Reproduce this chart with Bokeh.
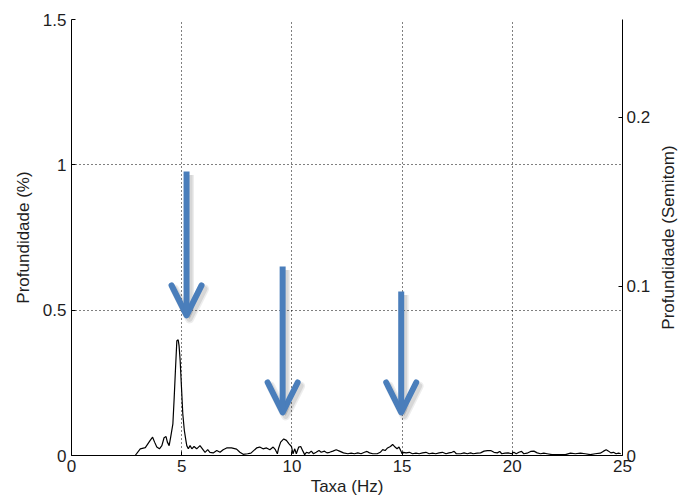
import math
from bokeh.plotting import figure
from bokeh.models import (Range1d, LinearAxis, FixedTicker, NumeralTickFormatter,
                          Arrow, OpenHead, ColumnDataSource, Label)
from bokeh.embed import file_html
from bokeh.resources import INLINE

# ---- data ----
rate_hz = [2.58, 2.89, 3.12, 3.35, 3.57, 3.68, 3.77, 3.87, 3.99, 4.10, 4.20, 4.29, 4.35, 4.43,
           4.50, 4.60, 4.66, 4.72, 4.78, 4.84, 4.88, 4.93, 4.99, 5.05, 5.12, 5.19, 5.23, 5.30,
           5.38, 5.46, 5.56, 5.68, 5.83, 5.94, 6.06, 6.18, 6.28, 6.43, 6.59, 6.74, 6.88, 7.04,
           7.26, 7.49, 7.64, 7.79, 7.99, 8.14, 8.24, 8.40, 8.54, 8.69, 8.85, 9.00, 9.15, 9.25,
           9.34, 9.40, 9.49, 9.63, 9.75, 9.87, 9.98, 10.05, 10.13, 10.20, 10.31, 10.40, 10.50,
           10.58, 10.66, 10.77, 10.88, 10.98, 11.10, 11.23, 11.33, 11.48, 11.59, 11.71, 11.86,
           12.01, 12.16, 12.34, 12.54, 12.69, 12.84, 12.99, 13.14, 13.29, 13.41, 13.52, 13.67,
           13.87, 14.01, 14.12, 14.23, 14.34, 14.47, 14.57, 14.68, 14.77, 14.86, 14.95, 15.00,
           15.07, 15.18, 15.33, 15.47, 15.63, 15.78, 15.93, 16.08, 16.23, 16.38, 16.53, 16.68,
           16.83, 16.99, 17.13, 17.26, 17.36, 17.46, 17.66, 17.81, 17.96, 18.11, 18.22, 18.41,
           18.56, 18.72, 18.87, 19.02, 19.17, 19.32, 19.43, 19.52, 19.67, 19.81, 19.97, 20.07,
           20.18, 20.30, 20.42, 20.52, 20.67, 20.83, 20.98, 21.13, 21.28, 21.43, 21.58, 21.80,
           22.11, 22.41, 22.64, 22.86, 23.09, 23.31, 23.54, 23.76, 23.99, 24.14, 24.26, 24.37,
           24.47, 24.59, 24.71, 24.82, 24.92]
depth_pct = [0.000, 0.000, 0.023, 0.027, 0.052, 0.063, 0.046, 0.029, 0.023, 0.034, 0.061, 0.065,
             0.046, 0.034, 0.063, 0.109, 0.200, 0.300, 0.395, 0.398, 0.378, 0.327, 0.235, 0.143,
             0.086, 0.052, 0.034, 0.023, 0.034, 0.023, 0.031, 0.023, 0.034, 0.023, 0.011, 0.020,
             0.011, 0.009, 0.017, 0.011, 0.020, 0.026, 0.026, 0.022, 0.011, 0.004, 0.006, 0.008,
             0.015, 0.026, 0.029, 0.023, 0.026, 0.020, 0.029, 0.020, 0.006, 0.026, 0.046, 0.057,
             0.052, 0.040, 0.031, 0.006, 0.023, 0.006, 0.029, 0.031, 0.015, 0.003, 0.011, 0.008,
             0.015, 0.006, 0.011, 0.017, 0.011, 0.015, 0.009, 0.011, 0.015, 0.020, 0.015, 0.009,
             0.006, 0.008, 0.006, 0.009, 0.006, 0.011, 0.014, 0.009, 0.006, 0.006, 0.011, 0.020,
             0.017, 0.026, 0.031, 0.038, 0.029, 0.023, 0.029, 0.015, 0.006, 0.011, 0.009, 0.011,
             0.006, 0.008, 0.006, 0.009, 0.011, 0.006, 0.008, 0.006, 0.009, 0.011, 0.006, 0.009,
             0.011, 0.014, 0.006, 0.006, 0.009, 0.006, 0.009, 0.006, 0.008, 0.009, 0.015, 0.017,
             0.017, 0.011, 0.009, 0.014, 0.006, 0.008, 0.009, 0.006, 0.011, 0.006, 0.011, 0.014,
             0.006, 0.008, 0.014, 0.015, 0.009, 0.006, 0.008, 0.006, 0.003, 0.003, 0.003, 0.008,
             0.006, 0.008, 0.006, 0.003, 0.006, 0.008, 0.015, 0.020, 0.015, 0.009, 0.011, 0.006,
             0.008, 0.006]

x_ticks = [0, 5, 10, 15, 20, 25]
y_ticks_pct = [0, 0.5, 1, 1.5]
y_ticks_semitone = [0, 0.1, 0.2]

# annotation arrows (data coordinates): x, start (top), end (tip)
arrow_x = [5.22, 9.58, 14.96]
arrow_top = [0.977, 0.650, 0.564]
arrow_tip = [0.482, 0.148, 0.148]

FONT = "Liberation Sans"
TXT = "#1e1e1e"
ARROW_BLUE = "#4A7EBB"

X0, X1, Y0, Y1 = 0, 25, 0, 1.5
FRAME_W, FRAME_H = 553, 436

p = figure(width=679, height=500, output_backend="svg", toolbar_location=None,
           x_range=Range1d(X0, X1), y_range=Range1d(Y0, Y1),
           min_border_left=71, min_border_right=57, min_border_top=19, min_border_bottom=45)
p.outline_line_color = None
p.background_fill_color = "white"
p.border_fill_color = "white"

# semitone axis: 1.5 % of frequency expressed in semitones
p.extra_y_ranges = {"semi": Range1d(0, 12 * math.log2(1.015))}

# grid
p.xgrid.ticker = FixedTicker(ticks=[5, 10, 15, 20])
p.ygrid.ticker = FixedTicker(ticks=[0.5, 1, 1.5])
for g in (p.xgrid, p.ygrid):
    g.grid_line_color = "black"
    g.grid_line_dash = "1 3"
    g.grid_line_width = 1

src = ColumnDataSource(dict(x=rate_hz, y=depth_pct))
p.line("x", "y", source=src, line_color="black", line_width=1.2)

# soft drop shadow offset (screen px converted to data units)
sdx = 3.0 * (X1 - X0) / FRAME_W
sdy = -3.5 * (Y1 - Y0) / FRAME_H
for xa, y0, y1 in zip(arrow_x, arrow_top, arrow_tip):
    for w, a in ((9, 0.07), (6, 0.09)):
        p.add_layout(Arrow(x_start=xa + sdx, y_start=y0 + sdy, x_end=xa + sdx, y_end=y1 + sdy,
                           line_color="#000000", line_alpha=a, line_width=w, line_cap="butt",
                           end=OpenHead(size=30, line_color="#000000", line_alpha=a,
                                        line_width=w, line_join="round", line_cap="round")))
for xa, y0, y1 in zip(arrow_x, arrow_top, arrow_tip):
    p.add_layout(Arrow(x_start=xa, y_start=y0, x_end=xa, y_end=y1,
                       line_color=ARROW_BLUE, line_width=6, line_cap="butt",
                       end=OpenHead(size=30, line_color=ARROW_BLUE, line_width=6,
                                    line_join="round", line_cap="round")))

def style_axis(ax):
    ax.axis_line_color = "black"
    ax.axis_line_width = 1
    ax.major_tick_in = 4
    ax.major_tick_out = 0
    ax.minor_tick_in = 0
    ax.minor_tick_out = 0
    ax.major_tick_line_color = "black"
    ax.major_label_text_font = FONT
    ax.major_label_text_font_size = "17px"
    ax.major_label_text_color = TXT
    ax.axis_label_text_font = FONT
    ax.axis_label_text_font_size = "17px"
    ax.axis_label_text_font_style = "normal"
    ax.axis_label_text_color = TXT

xa = p.xaxis[0]
style_axis(xa)
xa.ticker = FixedTicker(ticks=x_ticks)
xa.axis_label = "Taxa (Hz)"
xa.major_label_standoff = 4
xa.axis_label_standoff = 2

ya = p.yaxis[0]
style_axis(ya)
ya.ticker = FixedTicker(ticks=y_ticks_pct)
ya.formatter = NumeralTickFormatter(format="0.[0]")
ya.axis_label = "Profundidade (%)"
ya.major_label_standoff = 5
ya.axis_label_standoff = 7

ra = LinearAxis(y_range_name="semi")
style_axis(ra)
ra.ticker = FixedTicker(ticks=y_ticks_semitone)
ra.formatter = NumeralTickFormatter(format="0.[0]")
ra.major_label_standoff = 4
p.add_layout(ra, "right")

# right-hand axis title, reading bottom-to-top like the reference
p.add_layout(Label(x=15, y=FRAME_H / 2, x_units="screen", y_units="screen",
                   text="Profundidade (Semitom)", angle=math.pi / 2,
                   text_align="center", text_baseline="middle",
                   text_font=FONT, text_font_size="17px", text_color=TXT), "right")

open("out.html", "w").write(file_html(p, INLINE))
